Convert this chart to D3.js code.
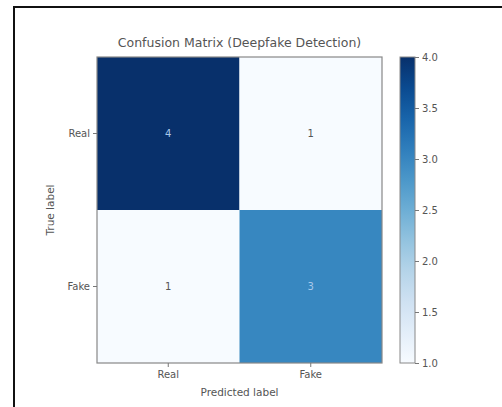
<!DOCTYPE html>
<html>
<head>
<meta charset="utf-8">
<script src="https://cdn.jsdelivr.net/npm/d3@7"></script>
<style>
  body { margin: 0; background: #fff; }
  svg text { font-family: "DejaVu Sans", sans-serif; fill: #333; }
</style>
</head>
<body>
<div id="chart"></div>
<script>
// confusion matrix data
const labels = ["Real", "Fake"];
const counts = [
    [4, 1],
    [1, 3]
];
const cbarTicks = [1.0, 1.5, 2.0, 2.5, 3.0, 3.5, 4.0];

const W = 502, H = 407;
const plot = { left: 97, right: 382, top: 57, bottom: 363 };
const cbar = { left: 400, right: 415 };

const svg = d3.select("#chart")
    .append("svg")
    .attr("width", W)
    .attr("height", H);

// outer frame of the screenshot
svg.append("rect")
    .attr("x", 14).attr("y", 7)
    .attr("width", W + 10).attr("height", H + 10)
    .attr("fill", "none")
    .attr("stroke", "#111")
    .attr("stroke-width", 2);

const xScale = d3.scaleBand().domain(labels).range([plot.left, plot.right]);
const yScale = d3.scaleBand().domain(labels).range([plot.top, plot.bottom]);
const cScale = d3.scaleSequential(d3.interpolateBlues).domain([1, 4]);

const cells = [];
counts.forEach((row, i) => row.forEach((v, j) => cells.push({ t: labels[i], p: labels[j], v })));

// cells
svg.selectAll(".cell")
    .data(cells)
    .enter().append("rect")
    .attr("class", "cell")
    .attr("x", d => xScale(d.p))
    .attr("y", d => yScale(d.t))
    .attr("width", xScale.bandwidth())
    .attr("height", yScale.bandwidth())
    .attr("fill", d => cScale(d.v));

// counts inside cells
svg.selectAll(".count")
    .data(cells)
    .enter().append("text")
    .attr("class", "count")
    .attr("x", d => xScale(d.p) + xScale.bandwidth() / 2)
    .attr("y", d => yScale(d.t) + yScale.bandwidth() / 2)
    .attr("text-anchor", "middle")
    .attr("dominant-baseline", "central")
    .attr("font-size", 10)
    .style("fill", d => d.v > 2.5 ? "#a9c8ea" : "#555")
    .text(d => d.v);

// frame of the matrix
svg.append("rect")
    .attr("x", plot.left).attr("y", plot.top)
    .attr("width", plot.right - plot.left)
    .attr("height", plot.bottom - plot.top)
    .attr("fill", "none")
    .attr("stroke", "#888")
    .attr("stroke-width", 1.2);

// axes
const xAxis = svg.append("g")
    .attr("transform", `translate(0,${plot.bottom})`)
    .call(d3.axisBottom(xScale).tickSize(4).tickPadding(4));
const yAxis = svg.append("g")
    .attr("transform", `translate(${plot.left},0)`)
    .call(d3.axisLeft(yScale).tickSize(4).tickPadding(3));
[xAxis, yAxis].forEach(g => {
    g.select(".domain").remove();
    g.selectAll("line").attr("stroke", "#777");
    g.selectAll("text").attr("font-size", 10).style("fill", "#555").attr("font-family", null);
});

svg.append("text")
    .attr("x", (plot.left + plot.right) / 2)
    .attr("y", 396)
    .attr("text-anchor", "middle")
    .attr("font-size", 10.5)
    .style("fill", "#555")
    .text("Predicted label");

svg.append("text")
    .attr("transform", `translate(54,${(plot.top + plot.bottom) / 2}) rotate(-90)`)
    .attr("text-anchor", "middle")
    .attr("font-size", 10.5)
    .style("fill", "#555")
    .text("True label");

svg.append("text")
    .attr("x", (plot.left + plot.right) / 2)
    .attr("y", 47)
    .attr("text-anchor", "middle")
    .attr("font-size", 12.5)
    .style("fill", "#555")
    .text("Confusion Matrix (Deepfake Detection)");

// colorbar
const cbScale = d3.scaleLinear().domain([1, 4]).range([plot.bottom, plot.top]);
const defs = svg.append("defs");
const grad = defs.append("linearGradient")
    .attr("id", "cbgrad")
    .attr("x1", 0).attr("y1", 1).attr("x2", 0).attr("y2", 0);
d3.range(0, 1.0001, 0.1).forEach(t => {
    grad.append("stop")
        .attr("offset", t)
        .attr("stop-color", cScale(1 + 3 * t));
});
svg.append("rect")
    .attr("x", cbar.left).attr("y", plot.top)
    .attr("width", cbar.right - cbar.left)
    .attr("height", plot.bottom - plot.top)
    .attr("fill", "url(#cbgrad)")
    .attr("stroke", "#888")
    .attr("stroke-width", 1);

const cbAxis = svg.append("g")
    .attr("transform", `translate(${cbar.right},0)`)
    .call(d3.axisRight(cbScale).tickValues(cbarTicks).tickFormat(d3.format(".1f")).tickSize(4).tickPadding(3));
cbAxis.select(".domain").remove();
cbAxis.selectAll("line").attr("stroke", "#777");
cbAxis.selectAll("text").attr("font-size", 10).style("fill", "#555").attr("font-family", null);
</script>
</body>
</html>
